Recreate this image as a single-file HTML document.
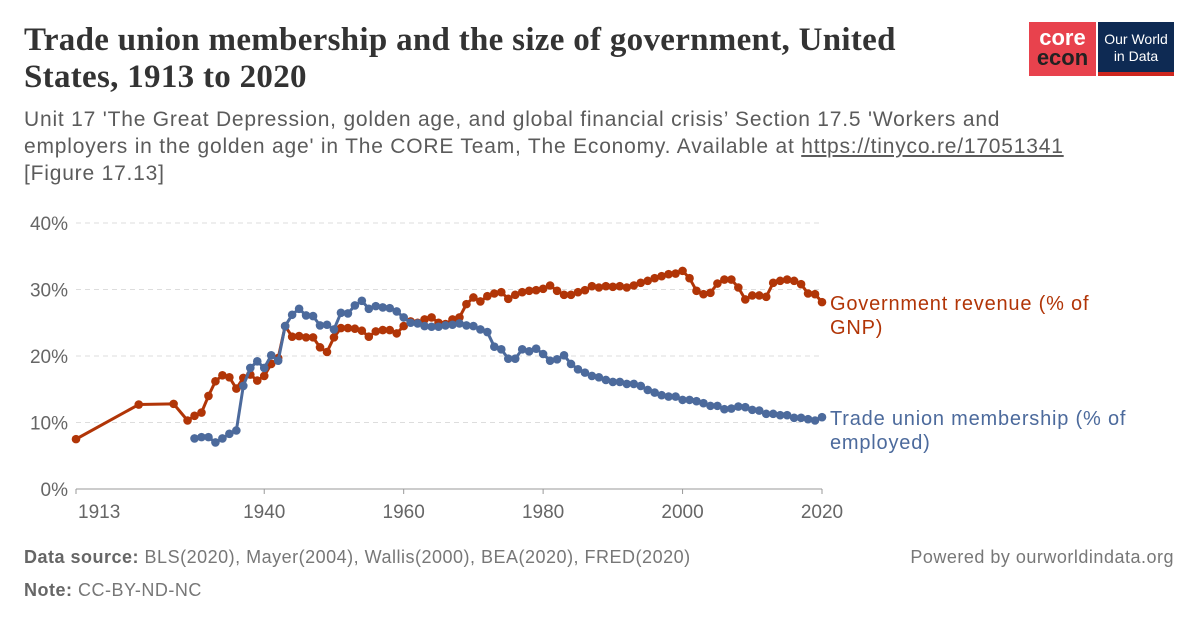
<!DOCTYPE html>
<html><head><meta charset="utf-8"><style>
body{margin:0;width:1200px;height:627px;background:#fff;font-family:"Liberation Sans",sans-serif;position:relative;overflow:hidden}
.t{position:absolute;margin:0}
#title{left:24px;top:22px;font-family:"Liberation Serif",serif;font-weight:bold;font-size:33px;line-height:37px;color:#333;width:910px;letter-spacing:0.3px}
#sub{left:24px;top:106px;font-size:21px;line-height:27px;color:#5b5b5b;width:1100px;letter-spacing:0.8px}
#sub a{color:#5b5b5b;text-decoration:underline}
.foot{font-size:18px;color:#777;letter-spacing:0.5px}
</style></head><body>
<h1 class="t" id="title">Trade union membership and the size of government, United<br>States, 1913 to 2020</h1>
<div class="t" style="left:1029px;top:22px;width:145px;height:54px">
 <div style="position:absolute;left:0;top:0;width:67px;height:54px;background:#e8424d;color:#fff;font-weight:bold;font-size:22px;line-height:20px;text-align:center;padding-top:6px;box-sizing:border-box"><span style="color:#fff">core</span><br><span style="color:#222">econ</span></div>
 <div style="position:absolute;left:69px;top:0;width:76px;height:54px;background:#0e2a53;color:#fff;font-size:14px;line-height:17px;text-align:center;padding-top:9px;box-sizing:border-box;border-bottom:4px solid #ce261e">Our World<br>in Data</div>
</div>
<p class="t" id="sub">Unit 17 'The Great Depression, golden age, and global financial crisis’ Section 17.5 'Workers and<br>employers in the golden age' in The CORE Team, The Economy. Available at <a>https://tinyco.re/17051341</a><br>[Figure 17.13]</p>
<svg id="chart" width="1200" height="627" style="position:absolute;left:0;top:0" font-family="Liberation Sans, sans-serif"></svg>
<div class="t foot" style="left:24px;top:547px"><b style="color:#666">Data source:</b> BLS(2020), Mayer(2004), Wallis(2000), BEA(2020), FRED(2020)</div>
<div class="t foot" style="left:24px;top:580px"><b style="color:#666">Note:</b> CC-BY-ND-NC</div>
<div class="t foot" style="right:26px;top:547px">Powered by ourworldindata.org</div>
<script>
const govYears=[1913,1922,1927,1929,1930,1931,1932,1933,1934,1935,1936,1937,1938,1939,1940,1941,1942,1943,1944,1945,1946,1947,1948,1949,1950,1951,1952,1953,1954,1955,1956,1957,1958,1959,1960,1961,1962,1963,1964,1965,1966,1967,1968,1969,1970,1971,1972,1973,1974,1975,1976,1977,1978,1979,1980,1981,1982,1983,1984,1985,1986,1987,1988,1989,1990,1991,1992,1993,1994,1995,1996,1997,1998,1999,2000,2001,2002,2003,2004,2005,2006,2007,2008,2009,2010,2011,2012,2013,2014,2015,2016,2017,2018,2019,2020];
const govValues=[7.5,12.7,12.8,10.3,11,11.5,14,16.2,17.1,16.8,15.1,16.7,17.2,16.3,17,18.8,19.7,24.5,22.9,23,22.8,22.8,21.3,20.6,22.8,24.2,24.2,24.1,23.8,22.9,23.7,23.9,23.9,23.4,24.5,25.2,25,25.5,25.8,25,24.8,25.5,25.8,27.8,28.8,28.2,29,29.4,29.6,28.6,29.2,29.6,29.8,29.9,30.1,30.6,29.8,29.2,29.2,29.6,29.9,30.5,30.3,30.5,30.4,30.5,30.3,30.6,31,31.3,31.7,32,32.3,32.4,32.8,31.7,29.8,29.3,29.5,30.9,31.5,31.5,30.3,28.5,29.1,29.1,28.9,31,31.3,31.5,31.3,30.8,29.4,29.3,28.1];
const unionStart=1930;
const unionValues=[7.6,7.8,7.8,7.0,7.6,8.3,8.8,15.5,18.2,19.2,18.2,20.1,19.3,24.5,26.2,27.1,26.1,26.0,24.6,24.7,24.0,26.5,26.4,27.6,28.3,27.1,27.5,27.3,27.2,26.7,25.8,25.0,24.9,24.5,24.4,24.4,24.6,24.7,24.9,24.6,24.5,24.0,23.6,21.4,21.0,19.6,19.6,21,20.7,21.1,20.3,19.3,19.5,20.1,18.8,18.0,17.5,17.0,16.8,16.4,16.1,16.1,15.8,15.8,15.5,14.9,14.5,14.1,13.9,13.9,13.4,13.4,13.2,12.9,12.5,12.5,12.0,12.1,12.4,12.3,11.9,11.8,11.3,11.3,11.1,11.1,10.7,10.7,10.5,10.3,10.8];
const yTicks=[0,10,20,30,40];
const xTicks=[1913,1940,1960,1980,2000,2020];
const NS="http://www.w3.org/2000/svg";
const svg=document.getElementById('chart');
const x=yr=>76+(yr-1913)*(822-76)/107;
const y=v=>489-v*6.65;
function mk(tag,attrs,parent){const e=document.createElementNS(NS,tag);for(const k in attrs)e.setAttribute(k,attrs[k]);(parent||svg).appendChild(e);return e;}
yTicks.forEach(t=>{
 if(t>0){const l=mk('line',{x1:76,x2:822,y1:y(t),y2:y(t),stroke:'#ddd','stroke-dasharray':'5,4'});
 
 }
 const tx=mk('text',{x:68,y:y(t)+7,'text-anchor':'end','font-size':19,fill:'#666'});tx.textContent=t+'%';
 
 
});
const ax=mk('line',{x1:76,x2:822,y1:489,y2:489,stroke:'#999'});


xTicks.forEach(t=>{
 const tk=mk('line',{x1:x(t),x2:x(t),y1:489,y2:494,stroke:'#999'});
 
 
 const tx=mk('text',{x:x(t),y:518,'text-anchor':t==1913?'start':'middle','font-size':19,fill:'#666'});tx.textContent=t;
 if(t==1913)tx.setAttribute('x',x(t)+2);
 
 
});
function series(years,vals,color,name){
 const g=mk('g',{});
 
 
 const pts=years.map((yr,i)=>x(yr)+','+y(vals[i])).join(' ');
 mk('polyline',{points:pts,fill:'none',stroke:color,'stroke-width':3,'stroke-linejoin':'round'},g);
 years.forEach((yr,i)=>{const c=mk('circle',{cx:x(yr),cy:y(vals[i]),r:4.3,fill:color},g);
  
  });
}
series(govYears,govValues,'#b13507','government-revenue-line');
series(unionValues.map((v,i)=>unionStart+i),unionValues,'#4c6a9c','union-membership-line');
function label(lines,yy,color,name){
 const t=mk('text',{x:830,y:yy,'font-size':20,fill:color,'letter-spacing':0.8});
 
 
 lines.forEach((s,i)=>{const sp=mk('tspan',{x:830,dy:i?24:0},t);sp.textContent=s;});
}
label(['Government revenue (% of','GNP)'],310,'#b13507','government-revenue-label');
label(['Trade union membership (% of','employed)'],425,'#4c6a9c','union-membership-label');
</script>
</body></html>
